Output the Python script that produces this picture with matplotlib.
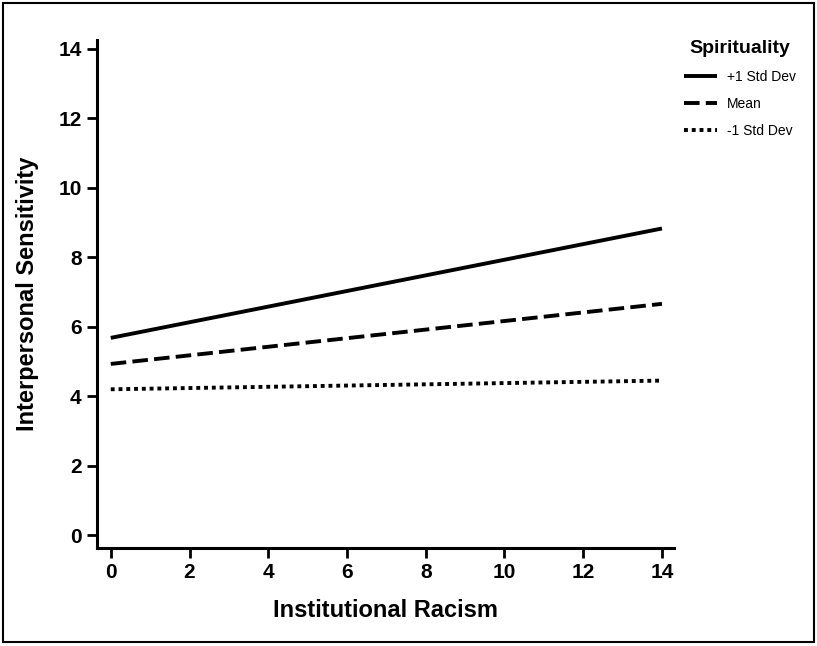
import matplotlib.pyplot as plt
from matplotlib.patches import Rectangle

# data
x_ends = [0, 14]
plus_sd = [5.68, 8.83]
mean_sd = [4.93, 6.66]
minus_sd = [4.20, 4.45]
series_labels = ["+1 Std Dev", "Mean", "-1 Std Dev"]
ticks = [0, 2, 4, 6, 8, 10, 12, 14]

plt.rcParams["font.family"] = ["Liberation Sans Narrow", "Liberation Sans", "DejaVu Sans"]

fig = plt.figure(figsize=(8.17, 6.46), dpi=100)
ax = fig.add_axes([0.1187, 0.1517, 0.706, 0.786])

ax.plot(x_ends, plus_sd, color="black", lw=2.8, ls="-", label=series_labels[0], solid_capstyle="butt")
ax.plot(x_ends, mean_sd, color="black", lw=2.8, ls=(0, (4, 1.6)), label=series_labels[1])
ax.plot(x_ends, minus_sd, color="black", lw=2.8, ls=(0, (1, 1)), label=series_labels[2])

ax.set_xlim(-0.35, 14.3)
ax.set_ylim(-0.37, 14.25)
ax.set_xticks(ticks)
ax.set_yticks(ticks)
for s in ["top", "right"]:
    ax.spines[s].set_visible(False)
for s in ["left", "bottom"]:
    ax.spines[s].set_linewidth(2.2)
ax.tick_params(direction="out", length=7, width=2, labelsize=15, pad=4)
for lab in ax.get_xticklabels() + ax.get_yticklabels():
    lab.set_fontweight("bold")

ax.set_xlabel("Institutional Racism", fontsize=17, fontweight="bold", labelpad=12)
ax.set_ylabel("Interpersonal Sensitivity", fontsize=17, fontweight="bold", labelpad=14)

leg = fig.legend(loc="upper left", bbox_to_anchor=(0.822, 0.958), frameon=False,
                 title="Spirituality", handlelength=2.4,
                 labelspacing=0.95, handletextpad=0.7,
                 prop={"family": ["Liberation Sans", "DejaVu Sans"], "size": 10})
leg.get_title().set_fontweight("bold")
leg.get_title().set_fontsize(14)
leg._legend_box.align = "center"

# frame around the whole figure
fig.patches.append(Rectangle((0.004, 0.006), 0.992, 0.99, transform=fig.transFigure,
                             fill=False, edgecolor="black", lw=1.5))

fig.savefig("out.png", dpi=100)
